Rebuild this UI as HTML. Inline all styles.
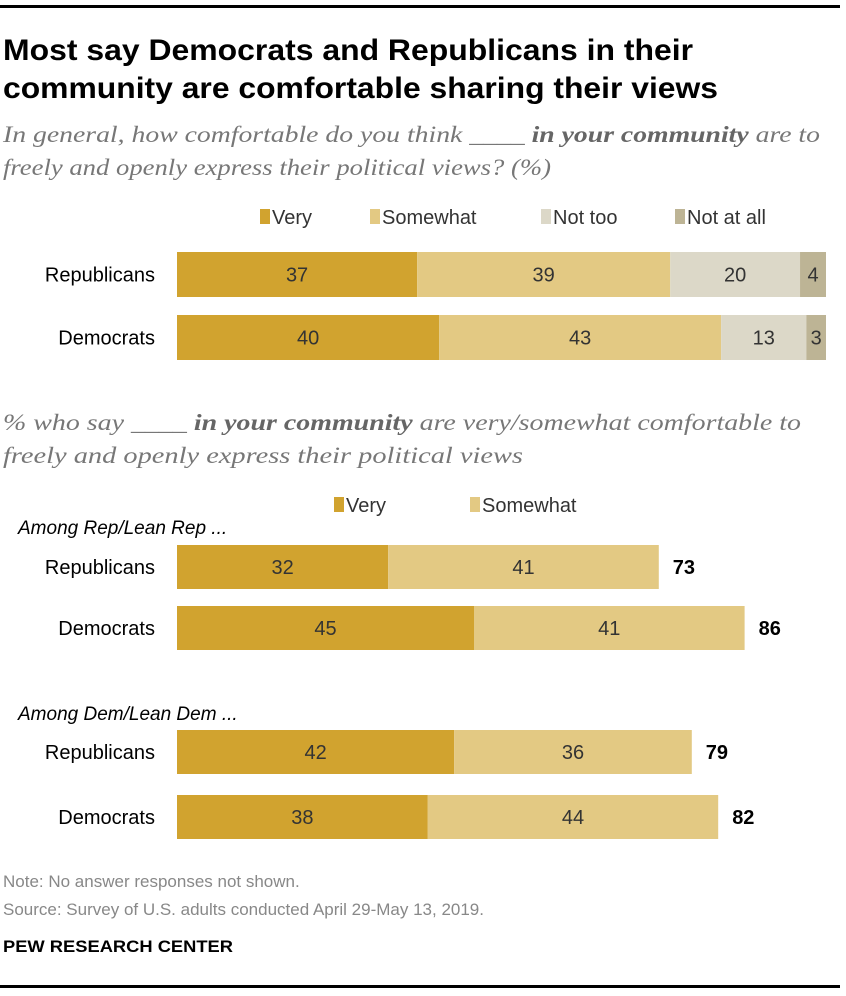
<!DOCTYPE html>
<html><head><meta charset="utf-8"><style>
html,body{margin:0;padding:0;background:#fff;}
svg{display:block;font-family:"Liberation Sans",sans-serif;}
</style></head><body>
<svg id="chart" width="846" height="996" viewBox="0 0 846 996" xmlns="http://www.w3.org/2000/svg">
<rect x="0" y="5" width="840" height="3" fill="#000"/>
<text x="3" y="60" font-size="30" font-weight="bold" textLength="690" lengthAdjust="spacingAndGlyphs">Most say Democrats and Republicans in their</text>
<text x="3" y="98" font-size="30" font-weight="bold" textLength="715" lengthAdjust="spacingAndGlyphs">community are comfortable sharing their views</text>
<g font-family="Liberation Serif,serif" font-style="italic" font-size="23" fill="#777">
<text x="3" y="142" textLength="817" lengthAdjust="spacingAndGlyphs">In general, how comfortable do you think ____ <tspan font-weight="bold" fill="#666">in your community</tspan> are to</text>
<text x="3" y="175" textLength="548" lengthAdjust="spacingAndGlyphs">freely and openly express their political views? (%)</text>
<text x="3" y="430" textLength="798" lengthAdjust="spacingAndGlyphs">% who say ____ <tspan font-weight="bold" fill="#666">in your community</tspan> are very/somewhat comfortable to</text>
<text x="3" y="463" textLength="520" lengthAdjust="spacingAndGlyphs">freely and openly express their political views</text>
</g>
<g font-style="italic" font-size="19" fill="#000">
<text x="18" y="534">Among Rep/Lean Rep ...</text>
<text x="18" y="720">Among Dem/Lean Dem ...</text>
</g>
<g id="legend1"></g><g id="legend2"></g>
<g id="bars1"></g><g id="bars2"></g>
<g font-size="17" fill="#888">
<text x="3" y="887">Note: No answer responses not shown.</text>
<text x="3" y="915">Source: Survey of U.S. adults conducted April 29-May 13, 2019.</text>
</g>
<text x="3" y="952" font-size="17" font-weight="bold" fill="#000" textLength="230" lengthAdjust="spacingAndGlyphs">PEW RESEARCH CENTER</text>
<rect x="0" y="985" width="840" height="3" fill="#000"/>
</svg>
<script>
const NS="http://www.w3.org/2000/svg";
const colors=["#d1a32f","#e3c983","#dcd8c8","#bdb495"];
const legendLabels1=["Very","Somewhat","Not too","Not at all"];
const legendLabels2=["Very","Somewhat"];
const groups1=["Republicans","Democrats"];
const very1=[37,40], somewhat1=[39,43], notToo1=[20,13], notAtAll1=[4,3];
const groups2=["Republicans","Democrats","Republicans","Democrats"];
const very2=[32,45,42,38], somewhat2=[41,41,36,44];
const totals2=[73,86,79,82];

const X0=177, FULL=649;
const xs2=v=>v*6.6;
function mk(tag,attrs,parent){const e=document.createElementNS(NS,tag);for(const k in attrs)e.setAttribute(k,attrs[k]);parent.appendChild(e);return e;}
function legend(g,labels,xs,y){labels.forEach((l,i)=>{
 const r=mk("rect",{x:xs[i],y:y-15,width:10,height:15,fill:colors[i]},g);
 
 
 const t=mk("text",{x:xs[i]+12,y:y,"font-size":20,fill:"#333"},g);t.textContent=l;
 
 
});}
legend(document.getElementById("legend1"),legendLabels1,[260,370,541,675],224);
legend(document.getElementById("legend2"),legendLabels2,[334,470],512);

function row(g,label,vals,scale,y,h,total){
 const t=mk("text",{x:155,y:y+h/2+7,"font-size":20,"text-anchor":"end",fill:"#000"},g);t.textContent=label;
 
 
 let x=X0;
 vals.forEach((v,i)=>{
  const w=scale(v);
  const r=mk("rect",{x:x,y:y,width:w,height:h,fill:colors[i]},g);
  
  
  const vt=mk("text",{x:x+w/2,y:y+h/2+7,"font-size":20,"text-anchor":"middle",fill:"#333"},g);vt.textContent=v;
  
  
  x+=w;
 });
 if(total!==undefined){
  const tt=mk("text",{x:x+14,y:y+h/2+7,"font-size":20,"font-weight":"bold",fill:"#000"},g);tt.textContent=total;
  
  
 }
}
const b1=document.getElementById("bars1");
const ys1=[252,315];
groups1.forEach((l,i)=>{
 const vals=[very1[i],somewhat1[i],notToo1[i],notAtAll1[i]];
 const sum=vals.reduce((a,b)=>a+b,0);
 row(b1,l,vals,v=>v*FULL/sum,ys1[i],45);
});
const b2=document.getElementById("bars2");
const ys2=[545,606,730,795];
groups2.forEach((l,i)=>row(b2,l,[very2[i],somewhat2[i]],xs2,ys2[i],44,totals2[i]));
</script>
</body></html>
